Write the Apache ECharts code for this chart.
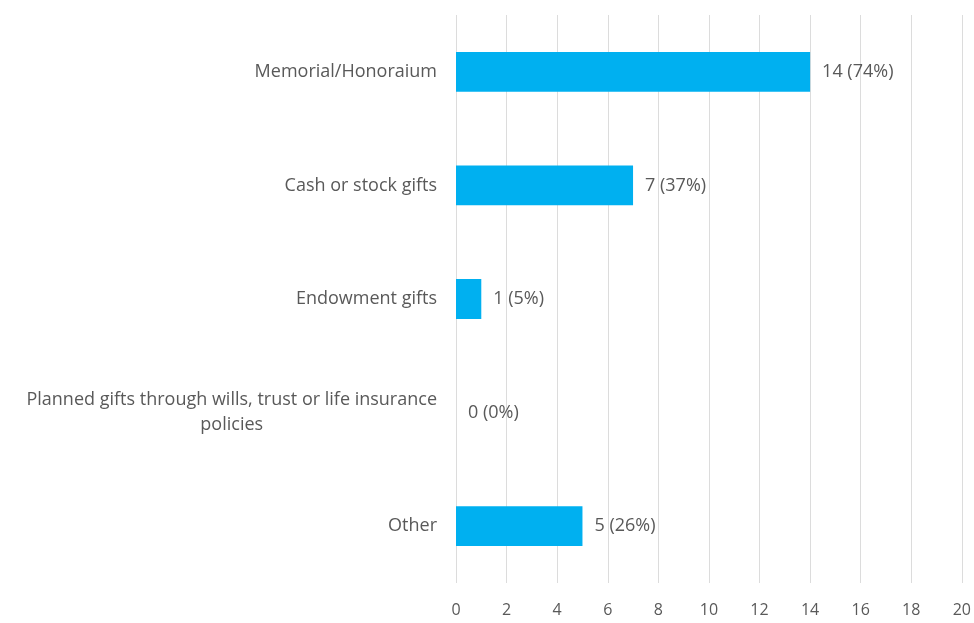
<!DOCTYPE html>
<html>
<head>
<meta charset="utf-8">
<script src="https://cdn.jsdelivr.net/npm/echarts@6/dist/echarts.min.js"></script>
<style>
  html, body { margin: 0; padding: 0; background: #ffffff; }
  #chart { width: 974px; height: 623px; }
</style>
</head>
<body>
<div id="chart"></div>
<script>
// Gift types received and how many respondents reported each
const categories = [
  'Memorial/Honoraium',
  'Cash or stock gifts',
  'Endowment gifts',
  'Planned gifts through wills, trust or life insurance\npolicies',
  'Other'
];
const counts = [14, 7, 1, 0, 5];
const percents = [74, 37, 5, 0, 26];
const axisMin = 0;
const axisMax = 20;
const axisStep = 2;

const textColor = '#595959';
const fontFamily = '"Open Sans", sans-serif';

const chart = echarts.init(document.getElementById('chart'));
chart.setOption({
  animation: false,
  backgroundColor: '#ffffff',
  grid: { left: 456, right: 8, top: 15, bottom: 40, containLabel: false },
  xAxis: {
    type: 'value',
    min: axisMin,
    max: axisMax,
    interval: axisStep,
    axisLine: { show: false },
    axisTick: { show: false },
    splitLine: { show: true, lineStyle: { color: '#dcdcdc', width: 1 } },
    axisLabel: { color: textColor, fontSize: 16, fontFamily: fontFamily, margin: 19 }
  },
  yAxis: {
    type: 'category',
    data: categories,
    inverse: true,
    axisLine: { show: false },
    axisTick: { show: false },
    axisLabel: {
      color: textColor, fontSize: 18, fontFamily: fontFamily, margin: 19,
      align: 'right', lineHeight: 25,
      // wrapped category names have their lines centred on each other
      formatter: v => v.split('\n').map(line => '{c|' + line + '}').join('\n'),
      rich: {
        c: {
          color: textColor, fontSize: 18, fontFamily: fontFamily,
          lineHeight: 25, align: 'center'
        }
      }
    }
  },
  series: [{
    type: 'bar',
    data: counts,
    barCategoryGap: '65%',
    itemStyle: { color: '#00b0f0' },
    label: {
      show: true,
      position: 'right',
      distance: 12,
      color: textColor,
      fontSize: 18,
      fontFamily: fontFamily,
      formatter: p => counts[p.dataIndex] + ' (' + percents[p.dataIndex] + '%)'
    }
  }]
});
</script>
</body>
</html>
